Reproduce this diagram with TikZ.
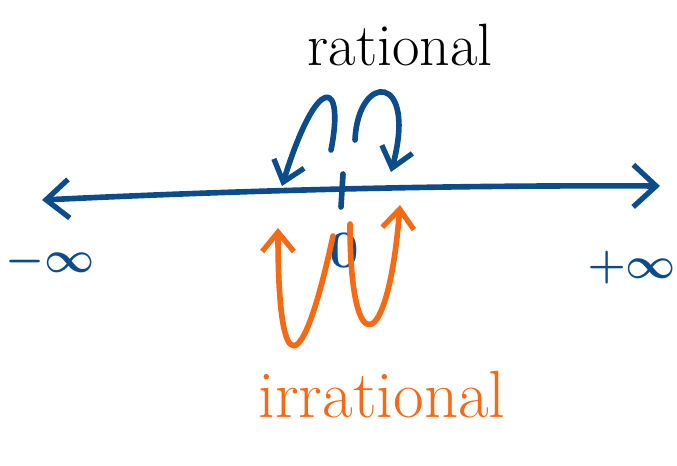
\documentclass[tikz,border=0pt]{standalone}
\usepackage{fontspec}
\usepackage{bm}
\usetikzlibrary{arrows.meta}
\definecolor{penblue}{RGB}{12,76,138}
\definecolor{penorange}{RGB}{245,106,20}
\begin{document}
\begin{tikzpicture}[x=0.02cm,y=-0.02cm,
  pen/.style={line width=3.2pt,line cap=round,line join=round},
  bluepen/.style={pen,draw=penblue},
  orangepen/.style={pen,draw=penorange},
  barb/.style={-{Straight Barb[length=11pt,width=18pt,line width=3pt]}},
  lbl/.style={inner sep=0pt}]
\useasboundingbox (0,0) rectangle (677,466);
% number line ends
\coordinate (L) at (42,200);
\coordinate (R) at (660,186);
\draw[bluepen,{Straight Barb[length=13pt,width=22pt,line width=3pt]}-{Straight Barb[length=13pt,width=24pt,line width=3pt]}]
  (L) .. controls (250,190) and (450,185) .. (R);
% tick at zero
\coordinate (tickTop) at (343,174);
\coordinate (tickBot) at (341,207);
\draw[bluepen] (tickTop) -- (tickBot);
% labels
\node[lbl,text=penblue,font=\fontsize{25}{28}\selectfont] (minf) at (50,262) {$\bm{-\infty}$};
\node[lbl,text=penblue,font=\fontsize{30}{34}\selectfont\bfseries] (zero) at (344,251) {0};
\node[lbl,text=penblue,font=\fontsize{27}{30}\selectfont] (pinf) at (632,268) {$\bm{+\infty}$};
\node[lbl,text=black,font=\fontsize{34}{38}\selectfont] (rat) at (400,45) {rational};
\node[lbl,text=penorange,font=\fontsize{38}{42}\selectfont] (irr) at (382,395) {irrational};
% blue arcs (rational)
\coordinate (b1s) at (331,150);
\coordinate (b1e) at (282,186);
\draw[bluepen,barb] (b1s) .. controls (345,80) and (318,70) .. (b1e);
\coordinate (b2s) at (355,140);
\coordinate (b2e) at (391,172);
\draw[bluepen,barb] (b2s) .. controls (358,72) and (418,72) .. (b2e);
% orange arcs (irrational)
\coordinate (o1s) at (333,236);
\coordinate (o1e) at (278,228);
\draw[orangepen,barb] (o1s) .. controls (302,380) and (278,385) .. (o1e);
\coordinate (o2s) at (350,224);
\coordinate (o2e) at (400,205);
\draw[orangepen,barb] (o2s) .. controls (350,365) and (388,355) .. (o2e);
\end{tikzpicture}
\end{document}
